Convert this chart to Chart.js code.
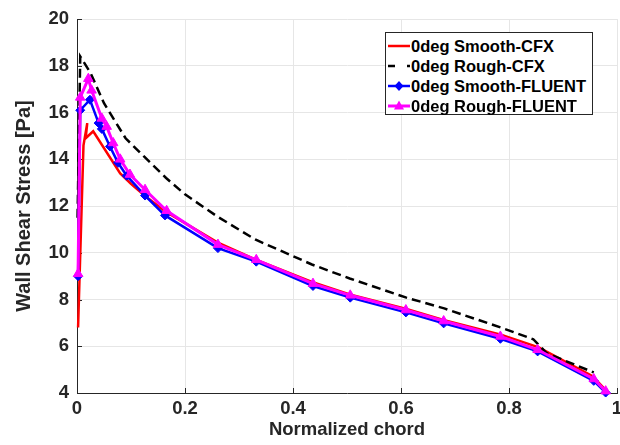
<!DOCTYPE html>
<html>
<head>
<meta charset="utf-8">
<script src="https://cdn.jsdelivr.net/npm/chart.js@4/dist/chart.umd.min.js"></script>
<style>
  html, body { margin: 0; padding: 0; background: #fff; overflow: hidden; }
  #wrap { position: relative; width: 630px; height: 445px; }
  #legend {
    position: absolute; left: 385px; top: 32px; width: 206px; height: 81px;
    border: 1px solid #262626; background: #fff;
    font: bold 16.5px "Liberation Sans", Arial, sans-serif; color: #000;
  }
  #legend .row { position: absolute; left: 0; height: 20px; line-height: 20px; white-space: nowrap; }
  #legend svg { position: absolute; left: 2px; top: 0; }
  #legend span { position: absolute; left: 25px; top: 0; }
</style>
</head>
<body>
<div id="wrap">
  <canvas id="chart" width="630" height="445"></canvas>
  <div id="legend"></div>
</div>
<script>
document.addEventListener('DOMContentLoaded', () => {

    // Smooth-CFX
    const smoothCfxX = [0.002, 0.012, 0.019, 0.016, 0.03, 0.08, 0.1, 0.125, 0.165, 0.26, 0.33, 0.435, 0.505, 0.61, 0.68, 0.785, 0.855, 0.955, 0.98];
    const smoothCfxY = [6.8, 14.6, 15.55, 14.9, 15.2, 13.4, 12.95, 12.45, 11.75, 10.45, 9.72, 8.75, 8.22, 7.6, 7.12, 6.5, 5.95, 4.72, 4.1];

    // Rough-CFX
    const roughCfxX = [0.001, 0.006, 0.025, 0.05, 0.09, 0.125, 0.165, 0.2, 0.26, 0.33, 0.435, 0.505, 0.61, 0.68, 0.785, 0.845, 0.87, 0.957];
    const roughCfxY = [11.5, 18.4, 17.7, 16.4, 14.9, 14.1, 13.2, 12.5, 11.55, 10.57, 9.5, 8.9, 8.08, 7.62, 6.8, 6.3, 5.7, 4.88];

    // Smooth-FLUENT
    const smoothFluentX = [0.002, 0.006, 0.024, 0.04, 0.046, 0.061, 0.076, 0.092, 0.126, 0.163, 0.261, 0.332, 0.437, 0.506, 0.609, 0.679, 0.784, 0.853, 0.957, 0.979];
    const smoothFluentY = [9.0, 16.1, 16.55, 15.55, 15.3, 14.55, 13.85, 13.3, 12.45, 11.6, 10.2, 9.62, 8.58, 8.08, 7.45, 6.98, 6.32, 5.78, 4.52, 4.02];

    // Rough-FLUENT
    const roughFluentX = [0.002, 0.006, 0.021, 0.027, 0.046, 0.055, 0.067, 0.08, 0.098, 0.126, 0.166, 0.261, 0.332, 0.437, 0.506, 0.609, 0.679, 0.784, 0.853, 0.957, 0.979];
    const roughFluentY = [9.1, 16.65, 17.45, 16.95, 15.75, 15.4, 14.7, 14.0, 13.35, 12.7, 11.8, 10.35, 9.7, 8.68, 8.18, 7.55, 7.08, 6.42, 5.85, 4.6, 4.08];

    const seriesNames = ['0deg Smooth-CFX', '0deg Rough-CFX', '0deg Smooth-FLUENT', '0deg Rough-FLUENT'];
    const xTicks = [0, 0.2, 0.4, 0.6, 0.8, 1];
    const yTicks = [4, 6, 8, 10, 12, 14, 16, 18, 20];

    const fontFamily = '"Liberation Sans", Arial, sans-serif';
    const axisColor = '#262626';

    function toPoints(xs, ys) {
        return xs.map((x, i) => ({ x: x, y: ys[i] }));
    }

    // MATLAB style ticks pointing into the plot
    const innerTicks = {
        id: 'innerTicks',
        beforeDatasetsDraw(chart) {
            const ctx = chart.ctx;
            const area = chart.chartArea;
            const xs = chart.scales.x;
            const ys = chart.scales.y;
            ctx.save();
            ctx.strokeStyle = axisColor;
            ctx.lineWidth = 1;
            ctx.beginPath();
            xTicks.forEach(v => {
                const px = Math.round(xs.getPixelForValue(v)) + 0.5;
                ctx.moveTo(px, area.bottom);
                ctx.lineTo(px, area.bottom - 5);
            });
            yTicks.forEach(v => {
                const py = Math.round(ys.getPixelForValue(v)) + 0.5;
                ctx.moveTo(area.left, py);
                ctx.lineTo(area.left + 5, py);
            });
            ctx.stroke();
            ctx.restore();
        }
    };

    new Chart(document.querySelector('#chart'), {
        type: 'scatter',
        data: {
            datasets: [
                {
                    label: seriesNames[0],
                    data: toPoints(smoothCfxX, smoothCfxY),
                    showLine: true,
                    borderColor: '#ff0000',
                    backgroundColor: '#ff0000',
                    borderWidth: 2.5,
                    pointRadius: 0,
                    order: 4,
                    clip: false
                },
                {
                    label: seriesNames[1],
                    data: toPoints(roughCfxX, roughCfxY),
                    showLine: true,
                    borderColor: '#000000',
                    backgroundColor: '#000000',
                    borderWidth: 2.5,
                    borderDash: [9, 5],
                    pointRadius: 0,
                    order: 3,
                    clip: false
                },
                {
                    label: seriesNames[2],
                    data: toPoints(smoothFluentX, smoothFluentY),
                    showLine: true,
                    borderColor: '#0000ff',
                    backgroundColor: '#0000ff',
                    borderWidth: 2.5,
                    pointStyle: 'rectRot',
                    pointRadius: 4.5,
                    pointBorderWidth: 1,
                    order: 2,
                    clip: false
                },
                {
                    label: seriesNames[3],
                    data: toPoints(roughFluentX, roughFluentY),
                    showLine: true,
                    borderColor: '#ff00ff',
                    backgroundColor: '#ff00ff',
                    borderWidth: 3,
                    pointStyle: 'triangle',
                    pointRadius: 5.5,
                    pointBorderWidth: 1,
                    order: 1,
                    clip: false
                }
            ]
        },
        options: {
            responsive: false,
            animation: false,
            devicePixelRatio: 1,
            layout: { padding: { top: 15, right: 13, left: 0, bottom: 0 } },
            plugins: {
                legend: { display: false },
                tooltip: { enabled: false }
            },
            scales: {
                x: {
                    type: 'linear',
                    min: 0,
                    max: 1,
                    afterFit: s => { s.height = 52; },
                    afterBuildTicks: s => { s.ticks = xTicks.map(v => ({ value: v })); },
                    grid: { color: '#e6e6e6', drawTicks: false },
                    border: { color: axisColor, width: 1 },
                    ticks: {
                        padding: 5,
                        color: axisColor,
                        font: { family: fontFamily, size: 18.5, weight: 'bold' },
                        callback: v => String(v)
                    },
                    title: {
                        display: true,
                        text: 'Normalized chord',
                        color: axisColor,
                        padding: { top: 0, bottom: 4 },
                        font: { family: fontFamily, size: 18.5, weight: 'bold' }
                    }
                },
                y: {
                    type: 'linear',
                    min: 4,
                    max: 20,
                    afterFit: s => { s.width = 77; },
                    afterBuildTicks: s => { s.ticks = yTicks.map(v => ({ value: v })); },
                    grid: { color: '#e6e6e6', drawTicks: false },
                    border: { color: axisColor, width: 1 },
                    ticks: {
                        padding: 8,
                        color: axisColor,
                        font: { family: fontFamily, size: 18.5, weight: 'bold' }
                    },
                    title: {
                        display: true,
                        text: 'Wall Shear Stress [Pa]',
                        color: axisColor,
                        padding: { top: 12, bottom: 0 },
                        font: { family: fontFamily, size: 20, weight: 'bold' }
                    }
                }
            }
        },
        plugins: [innerTicks]
    });

    // legend drawn as html, boxed inside the plot like the original
    const legendBox = document.querySelector('#legend');
    const samples = [
        '<line x1="0" y1="10" x2="22" y2="10" stroke="#ff0000" stroke-width="2.5"/>',
        '<line x1="0" y1="10" x2="22" y2="10" stroke="#000" stroke-width="2.5" stroke-dasharray="7,12"/>',
        '<line x1="0" y1="10" x2="22" y2="10" stroke="#0000ff" stroke-width="2.5"/><polygon points="11,5 15.5,10 11,15 6.5,10" fill="#0000ff"/>',
        '<line x1="0" y1="10" x2="22" y2="10" stroke="#ff00ff" stroke-width="3"/><polygon points="11,4.5 16,13.5 6,13.5" fill="#ff00ff"/>'
    ];
    seriesNames.forEach((name, i) => {
        const row = document.createElement('div');
        row.className = 'row';
        row.style.top = (3 + i * 20) + 'px';
        row.innerHTML = '<svg width="22" height="20">' + samples[i] + '</svg>';
        const label = document.createElement('span');
        label.textContent = name;
        row.appendChild(label);
        legendBox.appendChild(row);
    });
});
</script>
</body>
</html>
